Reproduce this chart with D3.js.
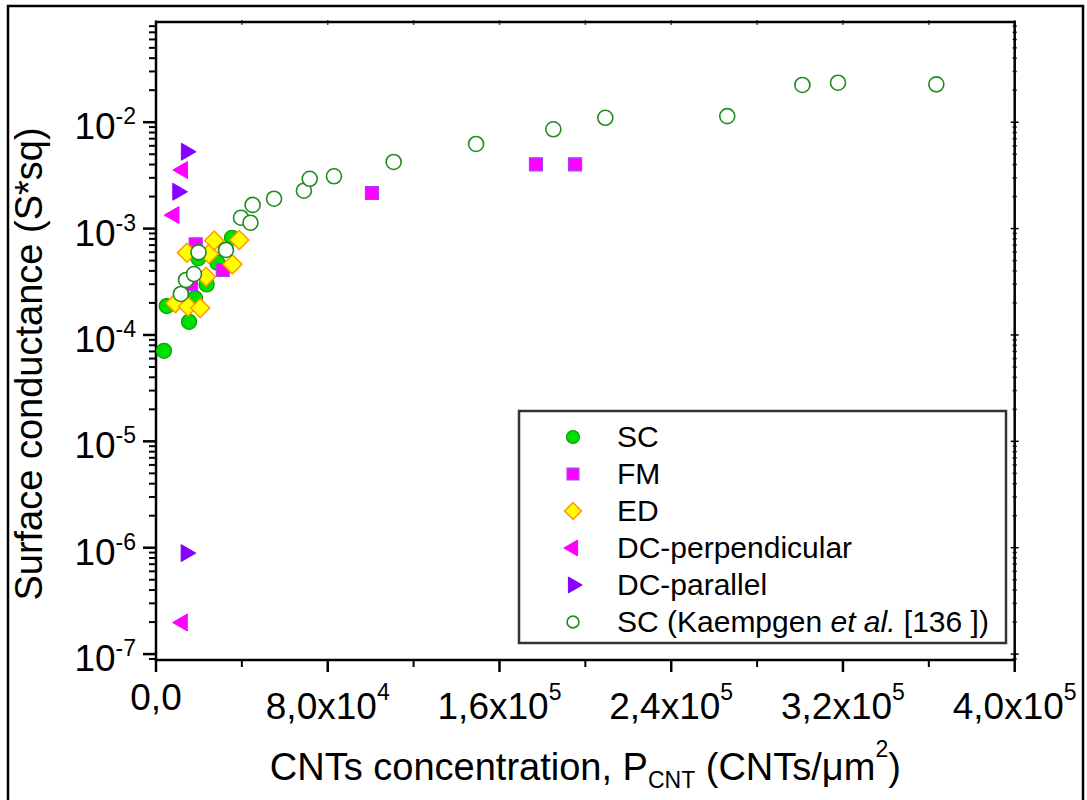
<!DOCTYPE html>
<html>
<head>
<meta charset="utf-8">
<title>Surface conductance vs CNT concentration</title>
<style>
    body { margin: 0; background: #fff; }
    svg text { font-family: Arial, "Liberation Sans", sans-serif; fill: #000; }
</style>
</head>
<body>
<div id="chart"></div>
<script src="https://cdn.jsdelivr.net/npm/d3@7"></script>
<script>
// ---- data ----
const scX = [3700, 5000, 15400, 18200, 23600, 19700, 28600, 35400];
const scY = [7.1e-5, 1.87e-4, 1.33e-4, 2.21e-4, 2.98e-4, 5.26e-4, 4.78e-4, 8.2e-4];

const fmX = [16300, 18500, 31100, 100600, 177000, 195200];
const fmY = [3.0e-4, 7.1e-4, 4.08e-4, 2.16e-3, 4.02e-3, 4.02e-3];

const edX = [9000, 14900, 20600, 23300, 14400, 24700, 27100, 35600, 38800];
const edY = [1.99e-4, 1.85e-4, 1.79e-4, 3.53e-4, 5.93e-4, 5.79e-4, 7.73e-4, 4.61e-4, 7.81e-4];

const dcPerpX = [12400, 8400, 12300];
const dcPerpY = [3.55e-3, 1.34e-3, 1.98e-7];

const dcParX = [14100, 10100, 14000];
const dcParY = [5.28e-3, 2.22e-3, 8.9e-7];

const kaeX = [11600, 14000, 17700, 19800, 32600, 39600, 44000, 45000, 55000, 68900, 71600,
              82900, 110700, 149100, 185100, 209300, 266100, 301100, 317700, 363500];
const kaeY = [2.43e-4, 3.29e-4, 3.74e-4, 5.98e-4, 6.3e-4, 1.265e-3, 1.135e-3, 1.67e-3, 1.91e-3, 2.27e-3, 2.94e-3,
              3.1e-3, 4.23e-3, 6.24e-3, 8.58e-3, 1.10e-2, 1.14e-2, 2.24e-2, 2.35e-2, 2.27e-2];

const seriesNames = ["SC", "FM", "ED", "DC-perpendicular", "DC-parallel", "SC (Kaempgen et al. [136 ])"];

const xTicks = [0, 80000, 160000, 240000, 320000, 400000];
const xTickMantissa = ["0,0", "8,0x10", "1,6x10", "2,4x10", "3,2x10", "4,0x10"];
const xTickExponent = ["", "4", "5", "5", "5", "5"];
const yTickExponents = [-7, -6, -5, -4, -3, -2];

// ---- layout ----
const width = 1087, height = 800;
const plotL = 156, plotR = 1014.7, plotT = 22, plotB = 660;

const svg = d3.select("#chart").append("svg")
    .attr("width", width)
    .attr("height", height);

// outer frame
svg.append("rect")
    .attr("x", 8).attr("y", 6)
    .attr("width", 1075).attr("height", 900)
    .attr("fill", "none").attr("stroke", "#000").attr("stroke-width", 2.5);

const x = d3.scaleLinear().domain([0, 400000]).range([plotL, plotR]);
const y = d3.scaleLog().domain([8.8e-8, 0.0875]).range([plotB, plotT]);

// minor ticks
const yMinor = [];
for (let e = -8; e <= -2; e++) {
    for (let m = 2; m <= 9; m++) {
        const v = m * Math.pow(10, e);
        if (v >= 8.8e-8 && v <= 0.0875) yMinor.push(v);
    }
}
const xMinor = d3.range(40000, 400000, 80000);

const axes = svg.append("g").attr("stroke", "#000");

// left axis ticks
axes.selectAll(".ymaj").data(yTickExponents).join("line")
    .attr("x1", plotL - 13).attr("x2", plotL)
    .attr("y1", d => y(Math.pow(10, d))).attr("y2", d => y(Math.pow(10, d)))
    .attr("stroke-width", 2.5);
axes.selectAll(".ymin").data(yMinor).join("line")
    .attr("x1", plotL - 7).attr("x2", plotL)
    .attr("y1", d => y(d)).attr("y2", d => y(d))
    .attr("stroke-width", 2);
// right axis ticks (small)
axes.selectAll(".ymajr").data(yTickExponents).join("line")
    .attr("x1", plotR - 4).attr("x2", plotR + 4)
    .attr("y1", d => y(Math.pow(10, d))).attr("y2", d => y(Math.pow(10, d)))
    .attr("stroke-width", 1.5);
axes.selectAll(".yminr").data(yMinor).join("line")
    .attr("x1", plotR - 2).attr("x2", plotR + 2)
    .attr("y1", d => y(d)).attr("y2", d => y(d))
    .attr("stroke-width", 1.5);

// bottom axis ticks
axes.selectAll(".xmaj").data(xTicks).join("line")
    .attr("x1", d => x(d)).attr("x2", d => x(d))
    .attr("y1", plotB).attr("y2", plotB + 12)
    .attr("stroke-width", 2.5);
axes.selectAll(".xmin").data(xMinor).join("line")
    .attr("x1", d => x(d)).attr("x2", d => x(d))
    .attr("y1", plotB).attr("y2", plotB + 7)
    .attr("stroke-width", 2);
// top axis ticks (small)
axes.selectAll(".xmajt").data(xTicks.concat(xMinor)).join("line")
    .attr("x1", d => x(d)).attr("x2", d => x(d))
    .attr("y1", plotT - 2).attr("y2", plotT + 3)
    .attr("stroke", "#555")
    .attr("stroke-width", 1.5);

// plot box
svg.append("rect")
    .attr("x", plotL).attr("y", plotT)
    .attr("width", plotR - plotL).attr("height", plotB - plotT)
    .attr("fill", "none").attr("stroke", "#000").attr("stroke-width", 2.5);

// y tick labels
const yLab = svg.append("g").selectAll("text").data(yTickExponents).join("text")
    .attr("x", 136)
    .attr("y", d => y(Math.pow(10, d)) + 17)
    .attr("text-anchor", "end")
    .style("font-size", "37px");
yLab.append("tspan").text("10");
yLab.append("tspan").attr("dy", -15).style("font-size", "23px").text(d => "-" + Math.abs(d));

// x tick labels
const xLab = svg.append("g").selectAll("text").data(xTicks).join("text")
    .attr("x", d => x(d))
    .attr("y", (d, i) => xTickExponent[i] ? 719 : 710)
    .attr("text-anchor", "middle")
    .style("font-size", "37px");
xLab.append("tspan").text((d, i) => xTickMantissa[i]);
xLab.filter((d, i) => xTickExponent[i]).append("tspan")
    .attr("dy", -19).style("font-size", "23px")
    .text(d => xTickExponent[xTicks.indexOf(d)]);

// axis titles
const xt = svg.append("text")
    .attr("x", (plotL + plotR) / 2).attr("y", 780)
    .attr("text-anchor", "middle")
    .style("font-size", "38px");
xt.append("tspan").text("CNTs concentration, P");
xt.append("tspan").attr("dy", 8).style("font-size", "23px").text("CNT");
xt.append("tspan").attr("dy", -8).text(" (CNTs/\u03bcm");
xt.append("tspan").attr("dy", -23).style("font-size", "23px").text("2");
xt.append("tspan").attr("dy", 23).text(")");

svg.append("text")
    .attr("transform", "translate(42,364) rotate(-90)")
    .attr("text-anchor", "middle")
    .style("font-size", "38px")
    .text("Surface conductance (S*sq)");

// ---- markers ----
const styles = [
    { type: d3.symbolCircle, size: 177, fill: "#00e000", stroke: "#00a000", sw: 1.2, rot: 0, legSize: 130 },
    { type: d3.symbolSquare, size: 169, fill: "#ff00ff", stroke: "#a040ff", sw: 1.2, rot: 0, legSize: 140 },
    { type: d3.symbolSquare, size: 180, fill: "#ffff00", stroke: "#ff9900", sw: 1.5, rot: 45, legSize: 140 },
    { type: d3.symbolTriangle, size: 125, fill: "#ff00ff", stroke: "#ff00ff", sw: 1, rot: -90, legSize: 110 },
    { type: d3.symbolTriangle, size: 125, fill: "#8800ff", stroke: "#8800ff", sw: 1, rot: 90, legSize: 110 },
    { type: d3.symbolCircle, size: 177, fill: "#fff", stroke: "#1e8c1e", sw: 1.6, rot: 0, legSize: 110 }
];
const seriesX = [scX, fmX, edX, dcPerpX, dcParX, kaeX];
const seriesY = [scY, fmY, edY, dcPerpY, dcParY, kaeY];

const plot = svg.append("g");
seriesX.forEach((xs, s) => {
    const st = styles[s];
    const pts = xs.map((v, i) => [v, seriesY[s][i]]);
    plot.append("g").selectAll("path").data(pts).join("path")
        .attr("d", d3.symbol().type(st.type).size(st.size))
        .attr("transform", d => `translate(${x(d[0])},${y(d[1])}) rotate(${st.rot})`)
        .attr("fill", st.fill)
        .attr("stroke", st.stroke)
        .attr("stroke-width", st.sw);
});

// ---- legend ----
const leg = svg.append("g");
leg.append("rect")
    .attr("x", 519).attr("y", 411).attr("width", 487).attr("height", 232)
    .attr("fill", "#fff").attr("stroke", "#333").attr("stroke-width", 2.5);

seriesNames.forEach((name, i) => {
    const st = styles[i];
    const cy = 437 + i * 37;
    leg.append("path")
        .attr("d", d3.symbol().type(st.type).size(st.legSize))
        .attr("transform", `translate(573,${cy}) rotate(${st.rot})`)
        .attr("fill", st.fill)
        .attr("stroke", st.stroke)
        .attr("stroke-width", st.sw);
    const t = leg.append("text")
        .attr("x", 617).attr("y", cy + 10)
        .style("font-size", "30px");
    if (name.includes("et al.")) {
        const parts = name.split("et al.");
        t.append("tspan").text(parts[0]);
        t.append("tspan").style("font-style", "italic").text("et al.");
        t.append("tspan").text(parts[1]);
    } else {
        t.text(name);
    }
});
</script>
</body>
</html>
